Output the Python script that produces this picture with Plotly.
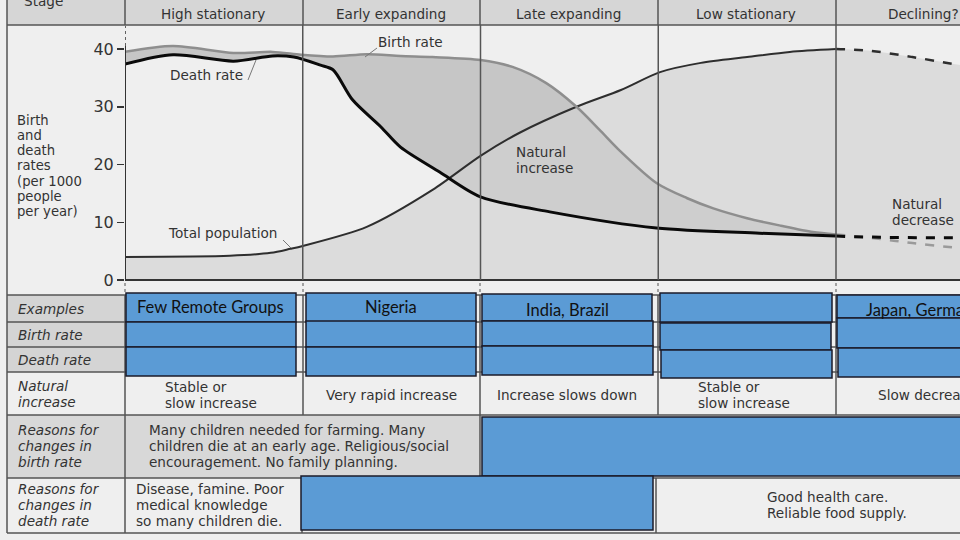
import plotly.graph_objects as go

# ---------------- data (x in "stage" units, y in per-1000 per year) -------------
STAGES = ["High stationary", "Early expanding", "Late expanding", "Low stationary", "Declining?"]
STAGE_EDGES = [0, 1, 2, 3, 4]

BIRTH_X = [0, 0.27, 0.61, 0.83, 0.99, 1.17, 1.36, 1.55, 1.73, 2.0, 2.18, 2.37, 2.54, 2.67, 2.78, 2.99, 3.16, 3.31, 3.5, 3.69, 3.87, 4.0]
BIRTH_Y = [39.5, 40.5, 39.3, 39.5, 39.0, 38.7, 39.1, 38.8, 38.6, 38.1, 36.9, 34.1, 30.0, 26.0, 22.5, 16.8, 14.2, 12.4, 10.7, 9.4, 8.3, 7.9]
BIRTH_DASH_X = [4.0, 4.25, 4.43, 4.7]
BIRTH_DASH_Y = [7.9, 7.1, 6.4, 5.5]

DEATH_X = [0, 0.27, 0.61, 0.83, 0.95, 1.1, 1.17, 1.28, 1.44, 1.55, 1.77, 2.0, 2.39, 2.99, 3.57, 4.0]
DEATH_Y = [37.4, 39.0, 37.9, 38.8, 38.6, 37.2, 36.4, 31.2, 26.5, 23.0, 18.7, 14.4, 11.8, 9.0, 8.1, 7.6]
DEATH_DASH_X = [4.0, 4.25, 4.7]
DEATH_DASH_Y = [7.6, 7.4, 7.3]

POP_X = [0, 0.59, 0.82, 0.93, 1.0, 1.36, 1.73, 2.0, 2.22, 2.54, 2.79, 3.01, 3.24, 3.5, 3.74, 4.0]
POP_Y = [4.0, 4.2, 4.7, 5.4, 5.9, 9.2, 15.6, 21.5, 25.5, 30.0, 32.9, 36.0, 37.6, 38.6, 39.5, 40.0]
POP_DASH_X = [4.0, 4.19, 4.43, 4.7]
POP_DASH_Y = [40.0, 39.7, 38.6, 37.2]

Y_TICKS = [0, 10, 20, 30, 40]

ROW_LABELS = ["Examples", "Birth rate", "Death rate", "Natural<br>increase",
              "Reasons for<br>changes in<br>birth rate", "Reasons for<br>changes in<br>death rate"]
EXAMPLES = ["Few Remote Groups", "Nigeria", "India, Brazil", "", "Japan, Germany"]
NAT_INCREASE = ["Stable or<br>slow increase", "Very rapid increase", "Increase slows down",
                "Stable or<br>slow increase", "Slow decrease"]
BIRTH_REASON = "Many children needed for farming. Many<br>children die at an early age. Religious/social<br>encouragement. No family planning."
DEATH_REASON_1 = "Disease, famine. Poor<br>medical knowledge<br>so many children die."
DEATH_REASON_4 = "Good health care.<br>Reliable food supply."
Y_TITLE = "Birth<br>and<br>death<br>rates<br>(per 1000<br>people<br>per year)"

# ---------------- layout helpers (pixel -> paper) -------------------------------
W, H = 960, 540
def px(x): return x / W
def py(y): return 1 - y / H

X0_PX, STAGE_PX = 125, 177.75
Y0_PX, UNIT_PX = 280, 5.775
def dx(p): return (p - X0_PX) / STAGE_PX
def dy(p): return (Y0_PX - p) / UNIT_PX

FONT = "DejaVu Sans"
FS = 13.6
TXT = "#333333"
BLUE = "#5b9bd5"
EDGE = "#1b1b2a"
GRID = "#555555"

fig = go.Figure()

# birth-death band (opaque), then population fill (semi-transparent) over it
fig.add_trace(go.Scatter(x=DEATH_X, y=DEATH_Y, mode="lines",
                         line=dict(color="rgba(0,0,0,0)", width=0, shape="spline", smoothing=0.8),
                         hoverinfo="skip"))
fig.add_trace(go.Scatter(x=BIRTH_X, y=BIRTH_Y, mode="lines", fill="tonexty",
                         fillcolor="#c6c6c6",
                         line=dict(color="rgba(0,0,0,0)", width=0, shape="spline", smoothing=0.8),
                         hoverinfo="skip"))
fig.add_trace(go.Scatter(x=POP_X, y=POP_Y, mode="lines", fill="tozeroy", fillcolor="rgba(210,210,210,0.67)",
                         line=dict(color="#2e2e2e", width=2, shape="spline", smoothing=0.8),
                         hoverinfo="skip"))
fig.add_trace(go.Scatter(x=POP_DASH_X, y=POP_DASH_Y, mode="lines", fill="tozeroy",
                         fillcolor="rgba(210,210,210,0.67)",
                         line=dict(color="#2e2e2e", width=2.5, dash="dash", shape="spline"),
                         hoverinfo="skip"))
fig.add_trace(go.Scatter(x=BIRTH_X, y=BIRTH_Y, mode="lines",
                         line=dict(color="#8e8e8e", width=2.5, shape="spline", smoothing=0.8),
                         hoverinfo="skip"))
fig.add_trace(go.Scatter(x=BIRTH_DASH_X, y=BIRTH_DASH_Y, mode="lines",
                         line=dict(color="#9a9a9a", width=2.5, dash="dash", shape="spline"),
                         hoverinfo="skip"))
fig.add_trace(go.Scatter(x=DEATH_X, y=DEATH_Y, mode="lines",
                         line=dict(color="#0a0a0a", width=3, shape="spline", smoothing=0.8),
                         hoverinfo="skip"))
fig.add_trace(go.Scatter(x=DEATH_DASH_X, y=DEATH_DASH_Y, mode="lines",
                         line=dict(color="#0a0a0a", width=3, dash="dash", shape="spline"),
                         hoverinfo="skip"))

shapes = []
ann = []

def rect(x0, y0, x1, y1, fill, line=None, lw=0, layer="below"):
    shapes.append(dict(type="rect", xref="paper", yref="paper", x0=px(x0), x1=px(x1),
                       y0=py(y1), y1=py(y0), fillcolor=fill,
                       line=dict(color=line or "rgba(0,0,0,0)", width=lw), layer=layer))

def hline(y, x0, x1, color=GRID, w=1.5, layer="above"):
    shapes.append(dict(type="line", xref="paper", yref="paper", x0=px(x0), x1=px(x1),
                       y0=py(y), y1=py(y), line=dict(color=color, width=w), layer=layer))

def vline(x, y0, y1, color=GRID, w=1.5, dash=None, layer="above"):
    shapes.append(dict(type="line", xref="paper", yref="paper", x0=px(x), x1=px(x),
                       y0=py(y0), y1=py(y1), line=dict(color=color, width=w, dash=dash), layer=layer))

def text(x, y, s, size=FS, anchor="center", color=TXT, italic=False, family=FONT, lh=15.8):
    """y is the centre of the whole block; each line placed separately for exact spacing."""
    lines = s.split("<br>")
    top = y - lh * (len(lines) - 1) / 2
    for i, ln in enumerate(lines):
        ann.append(dict(xref="paper", yref="paper", x=px(x), y=py(top + i * lh), text=ln,
                        showarrow=False, xanchor=anchor, yanchor="middle",
                        font=dict(family=family, size=size, color=color,
                                  style="italic" if italic else "normal")))

# header row
rect(7, -5, 960, 25, "#d6d6d6")
hline(25, 7, 960)
vline(7, -5, 533)
col_edges = [125, 303, 480, 658, 836, 1015]
for e in col_edges[:5]:
    vline(e, -5, 25)
text(43, 1, "Stage")
centers = [213, 391, 568, 746, 923]
for c, s in zip(centers, STAGES):
    text(c, 14, s)

# y axis title
text(15, 166, Y_TITLE, 13.2, anchor="left", lh=15.3)

# chart frame lines (data-ref)
shapes.append(dict(type="line", xref="x", yref="y", x0=0, x1=4.7, y0=0, y1=0,
                   line=dict(color="#333", width=2), layer="above"))
shapes.append(dict(type="line", xref="x", yref="y", x0=0, x1=0, y0=0, y1=dy(46),
                   line=dict(color="#333", width=2), layer="above"))
shapes.append(dict(type="line", xref="x", yref="y", x0=0, x1=0, y0=dy(46), y1=dy(26),
                   line=dict(color="#333", width=1.5, dash="dot"), layer="above"))
for e in STAGE_EDGES[1:]:
    shapes.append(dict(type="line", xref="x", yref="y", x0=e, x1=e, y0=0, y1=dy(25),
                       line=dict(color="#555", width=1.5), layer="above"))
# dotted stage marks between chart and table
for e in col_edges[:5]:
    vline(e, 283, 294, color="#888", w=1.5, dash="dot")

# chart labels
def leader(x0, y0, x1, y1):
    shapes.append(dict(type="line", xref="x", yref="y", x0=dx(x0), x1=dx(x1), y0=dy(y0), y1=dy(y1),
                       line=dict(color="#777", width=1), layer="above"))
text(410, 42, "Birth rate")
leader(377, 48, 365, 57)
text(206, 75, "Death rate")
leader(248, 80, 256, 60)
text(222, 233, "Total population")
leader(283, 240, 291, 248)
text(514, 160, "Natural<br>increase", anchor="left")
text(890, 212, "Natural<br>decrease", anchor="left")

# table
rows = [295, 322, 347, 372, 415, 478, 533]
rect(7, 295, 125, 372, "#d4d4d4")
rect(7, 415, 480, 478, "#d8d8d8")
for y in rows:
    hline(y, 7, 960)
for e in col_edges[:5]:
    vline(e, 295, 415)
vline(125, 415, 533)
vline(480, 415, 478)
vline(302, 478, 533)
vline(656, 478, 533)
label_y = [309, 335, 360, 394, 446, 505]
for y, s in zip(label_y, ROW_LABELS):
    text(16, y, s, anchor="left", italic=True)

# natural increase row and reasons
text(163, 395, NAT_INCREASE[0], anchor="left")
text(391, 395, NAT_INCREASE[1])
text(567, 395, NAT_INCREASE[2])
text(696, 395, NAT_INCREASE[3], anchor="left")
text(876, 395, NAT_INCREASE[4], anchor="left")
text(147, 446, BIRTH_REASON, anchor="left")
text(134, 505, DEATH_REASON_1, anchor="left")
text(765, 505, DEATH_REASON_4, anchor="left")

# blue overlay boxes
boxes = [
    (126, 293, 296, 322), (126, 322, 296, 347), (126, 347, 296, 376),
    (306, 293, 476, 322), (306, 321, 476, 347), (306, 347, 476, 376),
    (482, 294, 652, 321), (482, 321, 653, 346), (482, 346, 653, 375),
    (660, 293, 832, 322), (660, 323, 831, 350), (661, 350, 832, 378),
    (837, 295, 965, 318), (837, 318, 965, 348), (838, 348, 965, 377),
    (482, 417, 965, 476), (301, 476, 653, 530),
]
for b in boxes:
    rect(*b, BLUE, EDGE, 1.5, layer="above")

ex_pos = [(210, 307), (391, 307), (567, 310)]
for (x, y), s in zip(ex_pos, EXAMPLES[:3]):
    text(x, y, s, 16.5, color="#111111", family="Lato")
text(864, 310, EXAMPLES[4], 16.5, anchor="left", color="#111111", family="Lato")

fig.update_layout(
    width=W, height=H, margin=dict(l=0, r=0, t=0, b=0),
    paper_bgcolor="#efefef", plot_bgcolor="rgba(0,0,0,0)",
    showlegend=False,
    xaxis=dict(domain=[px(125), 1], range=[0, dx(960)], visible=False, fixedrange=True),
    yaxis=dict(domain=[py(290), py(25)], range=[dy(290), dy(25)], tickvals=Y_TICKS,
               ticks="outside", ticklen=7, tickwidth=1.5, tickcolor="#333",
               tickfont=dict(family=FONT, size=16, color=TXT), showgrid=False,
               zeroline=False, showline=False, fixedrange=True),
    shapes=shapes, annotations=ann,
)

fig.write_html("out.html", config={"displayModeBar": False, "staticPlot": True},
               post_script="document.body.style.margin='0';document.body.style.overflow='hidden';")
